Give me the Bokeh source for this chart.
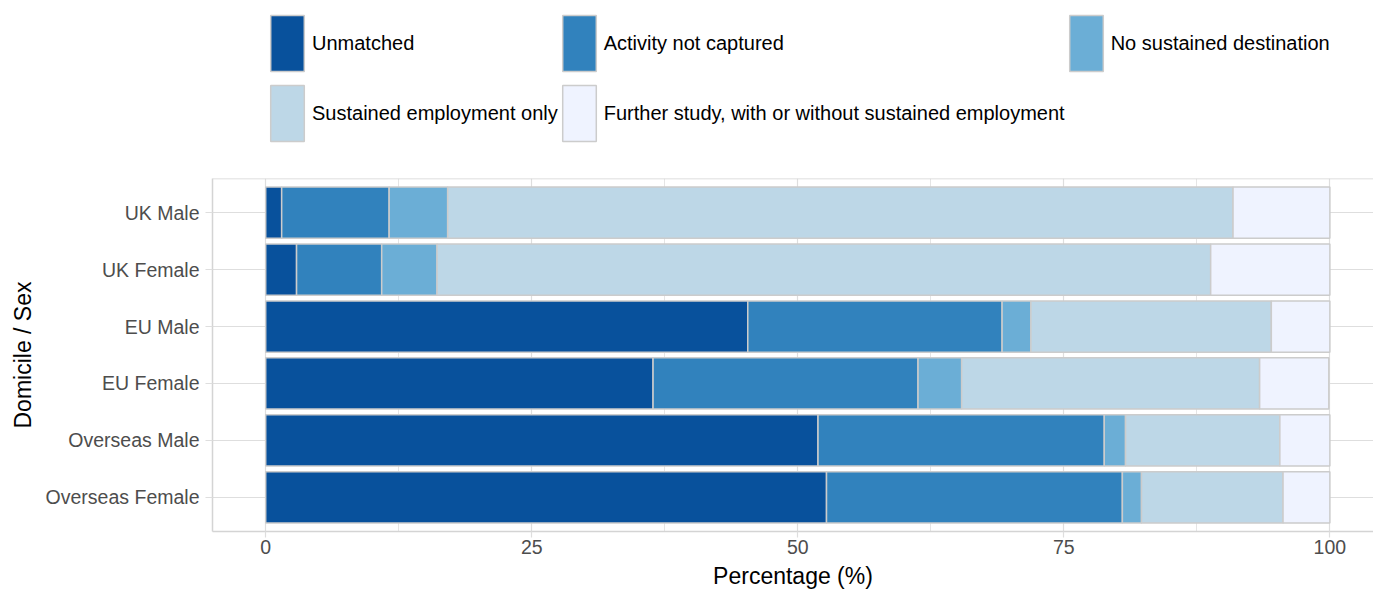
from bokeh.plotting import figure
from bokeh.layouts import column
from bokeh.models import (ColumnDataSource, FactorRange, FixedTicker, Legend,
                          LegendItem, Span)
from bokeh.embed import file_html
from bokeh.resources import INLINE

# categories, top to bottom as in the chart
groups = ["UK Male", "UK Female", "EU Male", "EU Female",
          "Overseas Male", "Overseas Female"]

outcomes = ["Unmatched", "Activity not captured", "No sustained destination",
            "Sustained employment only",
            "Further study, with or without sustained employment"]

# percentages per group
unmatched = [1.5, 2.9, 45.3, 36.4, 51.9, 52.7]
not_captured = [10.1, 8.0, 23.9, 24.9, 26.9, 27.8]
no_sustained = [5.5, 5.2, 2.7, 4.1, 2.0, 1.8]
employment_only = [73.8, 72.7, 22.6, 28.0, 14.5, 13.3]
further_study = [9.1, 11.2, 5.5, 6.5, 4.7, 4.4]

colors = ["#08519c", "#3182bd", "#6baed6", "#bdd7e7", "#eff3ff"]
x_ticks = [0, 25, 50, 75, 100]

keys = ["unmatched", "not_captured", "no_sustained", "employment_only",
        "further_study"]
source = ColumnDataSource(dict(
    group=groups,
    unmatched=unmatched,
    not_captured=not_captured,
    no_sustained=no_sustained,
    employment_only=employment_only,
    further_study=further_study,
))

FONT = "Liberation Sans"
GRID = "#dedede"
BORDER = "#d4d4d4"
BAR_LINE = "#cccccc"

# main chart
p = figure(width=1373, height=424,
           y_range=FactorRange(factors=groups[::-1], range_padding=0.1,
                               range_padding_units="absolute"),
           x_range=(-5, 104.1),
           output_backend="svg", toolbar_location=None,
           min_border_left=212, min_border_right=0,
           min_border_top=8, min_border_bottom=63)

bars = p.hbar_stack(keys, y="group", height=0.9, color=colors,
                    line_color=BAR_LINE, line_width=1.5, source=source)

# panel border on top (left/bottom come from the axes)
p.outline_line_color = None
p.add_layout(Span(location=len(groups) + 0.1, dimension="width",
                  line_color=BORDER, line_width=1.5))

p.xaxis.ticker = FixedTicker(ticks=x_ticks,
                             minor_ticks=[12.5, 37.5, 62.5, 87.5])
p.xgrid.grid_line_color = GRID
p.xgrid.grid_line_width = 1.2
p.xgrid.minor_grid_line_color = GRID
p.xgrid.minor_grid_line_width = 0.8
p.ygrid.grid_line_color = GRID
p.ygrid.grid_line_width = 1.2

for ax in (p.xaxis, p.yaxis):
    ax.axis_line_color = BORDER
    ax.axis_line_width = 1.5
    ax.major_tick_line_color = GRID
    ax.major_tick_line_width = 1.2
    ax.major_tick_in = 0
    ax.minor_tick_in = 0
    ax.minor_tick_out = 0
    ax.major_label_text_font = FONT
    ax.major_label_text_font_size = "19.5px"
    ax.major_label_text_color = "#4d4d4d"
    ax.axis_label_text_font = FONT
    ax.axis_label_text_font_size = "23px"
    ax.axis_label_text_font_style = "normal"
    ax.axis_label_text_color = "black"

p.xaxis.major_tick_out = 6
p.xaxis.major_label_standoff = 2
p.xaxis.axis_label_standoff = 6
p.xaxis.axis_label = "Percentage (%)"
p.yaxis.major_tick_out = 7
p.yaxis.major_label_standoff = 6
p.yaxis.axis_label_standoff = 7
p.yaxis.axis_label = "Domicile / Sex"

# legend strip above the chart (same glyphs, hidden, only feed the legend)
leg = figure(width=1373, height=170,
             y_range=FactorRange(factors=groups), x_range=(0, 100),
             output_backend="svg", toolbar_location=None,
             min_border=0)
leg.axis.visible = False
leg.grid.visible = False
leg.outline_line_color = None
leg_bars = leg.hbar_stack(keys, y="group", height=0.9, color=colors,
                          line_color=BAR_LINE, line_width=1.5,
                          source=source, visible=False)

# legend swatches are drawn at 80% of the glyph box
items = [LegendItem(label=name, renderers=[r])
         for name, r in zip(outcomes, leg_bars)]
legend = Legend(items=items, orientation="horizontal", ncols=3,
                location=(54, 22), margin=0, padding=0, spacing=0,
                glyph_width=42, glyph_height=70, label_standoff=4,
                label_text_font=FONT, label_text_font_size="20px",
                label_text_color="black", border_line_color=None,
                background_fill_alpha=0)
leg.add_layout(legend)

page = column(leg, p, spacing=0)

open("out.html", "w").write(file_html(page, INLINE))
